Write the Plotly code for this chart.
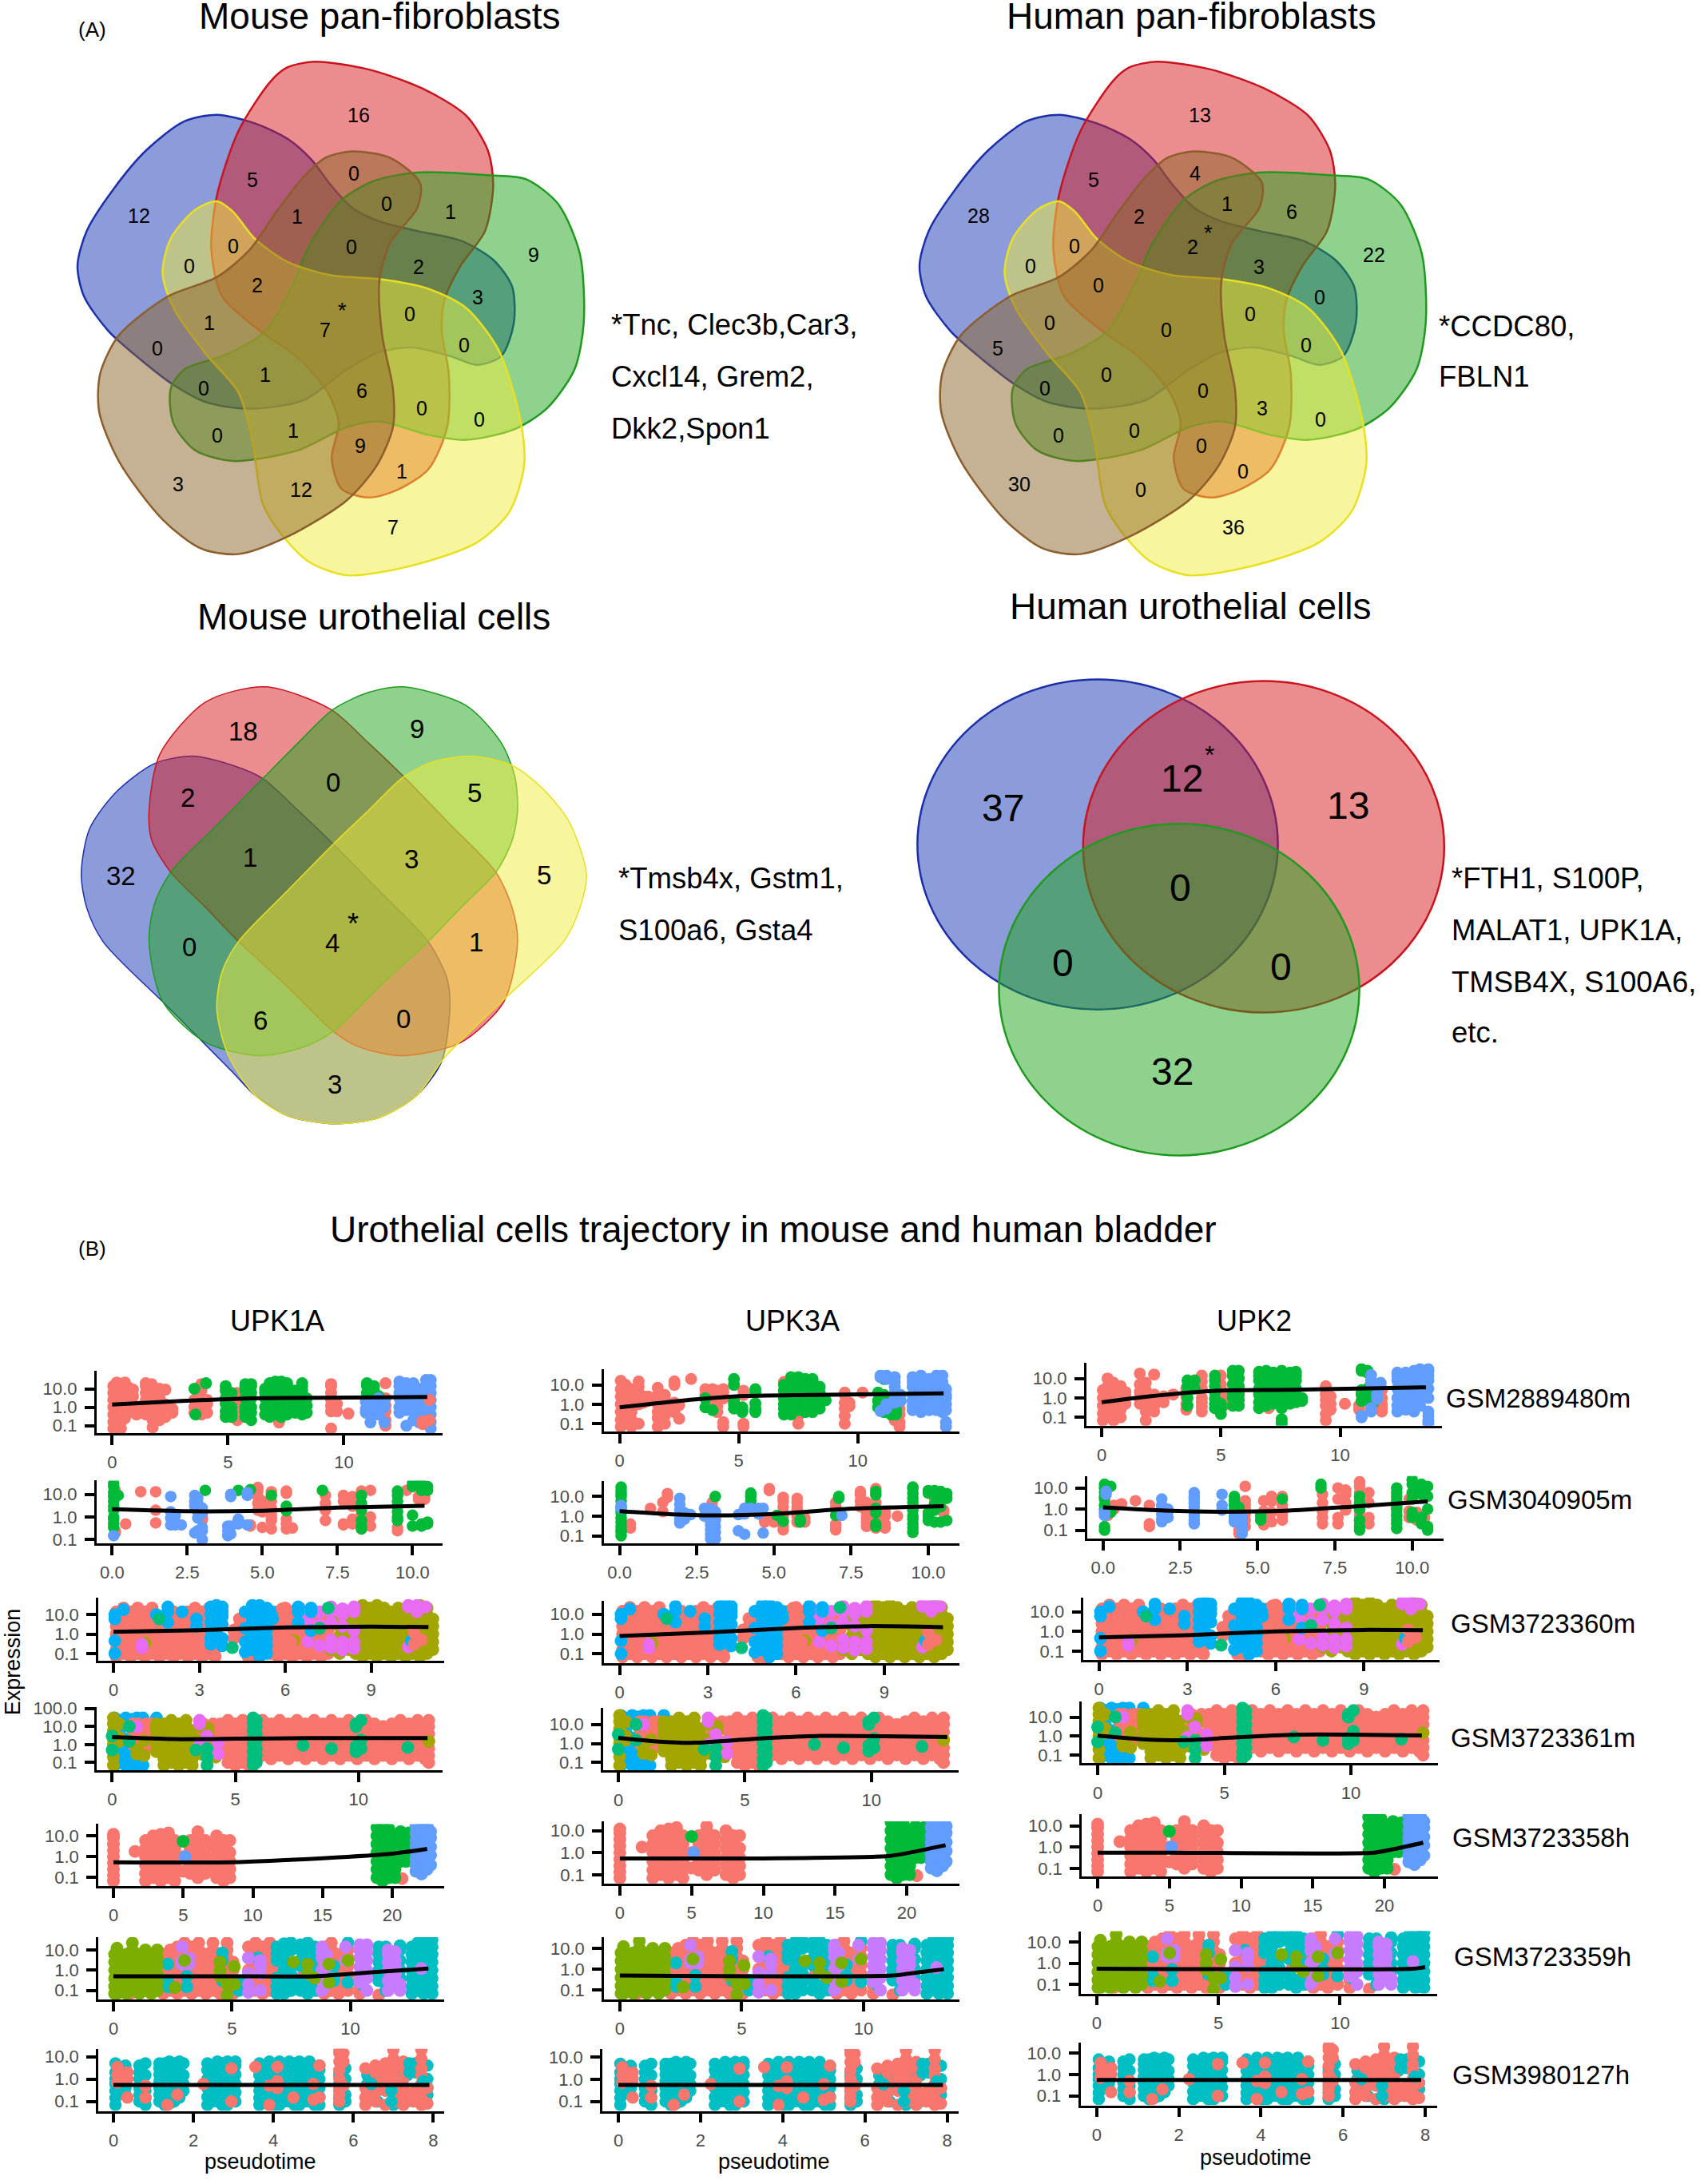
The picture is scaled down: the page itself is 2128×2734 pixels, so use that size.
import plotly.graph_objects as go

W, H = 2128, 2734
FONT = "Liberation Sans"
SALMON, G3, B3 = "#F8766D", "#00BA38", "#619CFF"
OLIVE, TEAL5, BLUE5, MAG5 = "#A3A500", "#00BF7D", "#00B0F6", "#E76BF3"
GRN4, CYAN4, PUR4 = "#7CAE00", "#00BFC4", "#C77CFF"

# ---------- Panel A: set counts ----------
mouse_fibro_counts = ["16","5","0","12","0","1","1","0","0","9","0","2","2","3","*","0","1","7","0","0","1","0","6","0","0","1","0","9","1","3","12","7"]
mouse_fibro_pos = [(662,285),(466,452),(653,436),(256,546),(713,515),(831,535),(549,548),(431,625),(649,628),(985,648),(349,677),(772,678),(475,727),(882,757),(632,782),(756,802),(386,825),(600,844),(857,882),(290,890),(489,960),(376,995),(668,1000),(778,1046),(884,1075),(541,1105),(401,1117),(665,1145),(742,1210),(329,1243),(555,1258),(725,1355)]
human_fibro_counts = ["13","5","4","28","1","6","2","*","0","2","22","0","3","0","0","0","0","0","0","5","0","0","0","3","0","0","0","0","0","30","0","36"]
human_fibro_pos = [(645,285),(449,452),(637,436),(238,546),(696,515),(815,535),(533,548),(661,582),(414,625),(632,628),(967,648),(333,677),(755,678),(458,727),(866,757),(739,802),(368,825),(584,844),(841,882),(273,890),(473,960),(359,995),(651,1000),(761,1046),(868,1075),(525,1105),(385,1117),(649,1145),(725,1210),(312,1243),(537,1258),(708,1355)]
mouse_uro_counts = ["18","9","2","0","5","1","3","32","5","*","4","0","1","6","0","3"]
mouse_uro_pos = [(449,387),(770,380),(346,563),(614,524),(875,550),(461,724),(759,727),(224,773),(1004,770),(651,890),(613,953),(350,963),(878,950),(481,1158),(744,1155),(617,1330)]
human_uro_counts = ["37","12","*","13","0","0","0","32"]
human_uro_pos = [(283,592),(612,512),(664,440),(919,585),(610,805),(393,1005),(795,1015),(595,1295)]

# Outlines of the hand-shaped Venn sets
blob_blue = [(400,288),(470,310),(530,350),(575,405),(610,470),(650,530),(700,565),(770,590),(850,615),(910,665),(945,735),(948,830),(925,915),(880,938),(830,915),(760,893),(700,905),(640,950),(560,1030),(460,1052),(380,1035),(320,990),(260,925),(200,850),(155,760),(143,680),(160,590),(210,480),(270,380),(340,305),(400,288)]
blob_red = [(580,150),(680,170),(780,220),(860,290),(900,380),(910,470),(895,590),(850,680),(820,770),(815,850),(828,960),(825,1100),(790,1210),(730,1265),(680,1283),(630,1260),(612,1180),(625,1090),(605,1010),(550,920),(480,850),(410,760),(390,640),(400,500),(440,330),(500,200),(530,165),(580,150)]
blob_green = [(770,438),(900,445),(970,455),(1030,520),(1070,650),(1077,830),(1060,950),(1010,1050),(950,1105),(860,1133),(790,1120),(700,1085),(640,1100),(550,1160),(430,1188),(360,1160),(320,1090),(315,1000),(340,950),(420,910),(490,850),(540,730),(570,630),(630,510),(690,460),(770,438)]
blob_yellow = [(400,513),(430,540),(470,610),(530,670),(610,705),(700,715),(790,740),(860,790),(920,900),(960,1080),(967,1200),(940,1320),(880,1400),(760,1460),(640,1485),(570,1450),(520,1380),(485,1300),(465,1130),(440,1010),(380,910),(320,790),(300,700),(315,610),(360,535),(400,513)]
blob_brown = [(650,383),(720,400),(775,465),(770,530),(720,620),(700,720),(705,860),(725,1000),(725,1100),(695,1200),(640,1290),(530,1385),(440,1430),(370,1415),(300,1340),(220,1190),(183,1060),(185,960),(220,860),(310,760),(400,710),(460,640),(510,540),(560,450),(600,400),(650,383)]
stad_blue = [(285,475),(355,455),(430,480),(485,515),(550,600),(615,690),(700,815),(790,950),(825,1050),(830,1130),(815,1270),(770,1360),(700,1420),(615,1437),(530,1415),(470,1360),(430,1300),(310,1125),(190,950),(160,860),(150,770),(165,650),(215,550),(285,475)]
stad_yellow = [(800,470),(870,455),(945,480),(1000,540),(1050,630),(1082,770),(1070,860),(1040,950),(930,1105),(820,1260),(770,1360),(700,1420),(620,1437),(530,1415),(470,1360),(420,1250),(400,1130),(410,1030),(440,950),(530,815),(615,690),(680,600),(745,510),(800,470)]
stad_red = [(490,270),(610,330),(680,420),(745,510),(830,637),(915,765),(945,860),(955,950),(930,1110),(850,1220),(740,1255),(660,1230),(615,1190),(530,1070),(440,950),(380,860),(315,765),(280,680),(275,600),(295,450),(380,310),(490,270)]
stad_green = [(745,270),(860,320),(925,420),(950,510),(955,600),(945,680),(915,765),(850,860),(790,950),(700,1070),(615,1190),(560,1232),(480,1255),(380,1220),(300,1110),(275,950),(285,850),(315,765),(400,640),(485,515),(550,420),(615,330),(680,285),(745,270)]

SET_BLUE = ("rgba(25,55,180,0.5)", "#1c2fa8")
SET_RED = ("rgba(215,25,30,0.5)", "#c8141e")
SET_GREEN = ("rgba(30,165,30,0.5)", "#1f9a1f")
SET_YELLOW = ("rgba(240,235,60,0.5)", "#e8e020")
SET_BROWN = ("rgba(140,100,40,0.5)", "#8b5e2b")

# ---------- Panel B: column templates of expression levels ----------
L = [.07,.16,.4,1,2.5,6,14,30]
M = [.1,.25,.6,1.6,4,10,22]

# Rows 1 and 2 differ per gene; each entry is (pseudotime, [expression values])
r1a_salmon = [(.05,L[0:7]),(.2,M[0:7]),(.38,L[0:7]),(.55,M[1:7]),(.7,[.5,1.2,3,8,12]),(.9,[.6,1.4,4,9]),(1.05,[.4,.9]),(1.2,[1.1,.5]),(1.45,[.4,1,2.5,6,14,20]),(1.7,[.6,1.5,4,10,18]),(1.75,[.08,.2]),(2.05,[.2,.5,1.2,3,7,10]),(2.3,[.3,.7,1.4,9]),(2.6,[.5,.8]),(3.55,[.5,1,2.5]),(3.85,[.4,.8,2,8,18]),(4.1,[.5,1.5,2.5]),(5.4,[.2,.8,1.5,4,6]),(7.2,[.15]),(9.45,[.07,.6,1.2,2.5,6,14,18]),(9.7,[.6,1.5]),(10.2,[.45]),(11.8,[.1,.2,.6,1.2,3,20])]
r1a_green = [(3.55,[10]),(3.6,[.4]),(4.05,[20]),(4.9,[.3,.6,1.5,3,8,14]),(5.15,[.3,.5,1,6]),(5.75,[.3,1,.6,3,8,14,18]),(6.0,[.2,.5,1,3,6,14,18]),(6.6,[.4,1,3,6,10]),(6.8,[.3,.6,1.5,3,8,14,20]),(7.05,[.4,1,2.5,6,14,25]),(7.3,[.3,.6,1.5,4,10,25]),(7.55,[.4,1,3,6,14,20]),(7.9,[.5,1.2,4,8]),(8.2,[.4,1,3,8,14,20]),(8.4,[.5,1.2,3]),(11.0,[1,3,6,14,20]),(11.3,[2,8,14]),(11.5,[.6,4])]
r1a_blue = [(10.95,[.5,.8,2]),(11.15,[.15,.6,1.5]),(11.5,[.4,.8,1.6,3]),(11.75,[.15,1,2]),(12.4,[.5,1,3,6,14,25]),(12.7,[.1,.7,2,4,10,20]),(13.0,[.2,.6,1.5,3,6,14,20]),(13.25,[.15,.6,1.5,4,10]),(13.55,L[1:8]),(13.75,L[0:8])]
r1a_salmon2 = [(13.4,[.12,.17]),(13.7,[2.5,.2])]

r1b_salmon = [(.05,L[0:6]+[16]),(.25,M[0:6]),(.5,L[0:6]),(.8,[.1,1,2,4,8,15]),(1.0,[1.2,2,2.5]),(1.2,[1.5,2.5]),(1.6,[.07,.2,.4,1,3,7]),(1.9,[.1,.25,.6,1.5,3,.7]),(2.3,[.4,.8,1.2,15,10]),(2.5,[.9,.18]),(3.0,[20,]),(3.6,[3,6]),(3.9,[1,4,6]),(4.1,[.4,.8,2,5]),(4.35,[.07,.12,6,4,2]),(5.2,[.1,.07,3,5]),(6.9,[5,14,2]),(7.5,[.25,.1]),(9.45,[.1,.25,.6,1.2,3,4]),(9.65,[.8,1.2]),(10.2,[4,]),(11.55,[.15,.4,.8,3]),(11.75,[.07,.12,.3,.6,1.5])]
r1b_green = [(3.6,[.7,2]),(3.9,[.5]),(4.8,[.6,1,1.5,20,10]),(5.15,[.5,.7,.4]),(5.7,[.4,.6,1.1,4,6]),(6.9,[.3,.6,1,2,5,10]),(7.2,[.3,.5,1,2.5,6,14,25]),(7.5,[.5,1.2,3,8,20,25]),(7.8,[.4,1,2,5,10,20]),(8.1,[.4,1,2.5,6,14,20]),(8.4,[1.2,4,8,.6]),(8.65,[1.6,]),(10.85,[.7,1.5,4]),(11.1,[.4,.8,1.6,3,20]),(11.4,[.3,.6,1.2]),(11.6,[.3,.5,.9])]
r1b_blue = [(10.95,[.45,30,25]),(11.2,[.6,1,20,30]),(11.55,[1.2,2,4,8,14,25]),(11.8,[1.5,3]),(12.3,[.5,.8,1.5,3,8,14,25]),(12.65,[.4,.8,2,5,10,20,30]),(13.0,[.5,.9,1.6,4,10,20]),(13.3,[.5,1,2.5,6,14,30]),(13.55,L[2:8]),(13.7,[.07,.12,.5,1,2,3,6])]

r1c_salmon = [(.05,L[0:5]),(.25,M[0:6]),(.5,L[0:6]),(.8,[.1,.25,.6,1.5,3,4]),(1.0,[.5,1.2,2]),(1.6,[.5,.9,2,5,18]),(1.85,[.07,.2,.5,1,2.5,6]),(2.2,[.2,.4,.8,1.5,16]),(2.6,[.6,1.2]),(3.0,[1.5]),(3.55,[.25,.5,1.2,3]),(4.2,[.2,.35,.6,1,3,7,14]),(5.0,[14,5]),(5.1,[.4,.8,2]),(7.0,[.3,3]),(9.4,[.07,.15,.4,.8,1.5,4]),(9.6,[.25,.5,1.2]),(10.2,[.5]),(10.8,[.25,.4]),(11.75,[.2,.3,.5,1,2.5])]
r1c_green = [(3.6,[.4,1,2,4,8]),(3.9,[3,8]),(4.75,[.3,.5,.9,2,4,8,14]),(5.0,[.15,.3,.5]),(5.5,[.4,1,2,5,14,25]),(5.75,[.4,.8,1.5,4,10,25]),(6.6,[.3,.6,1.5,3,8,14,22]),(6.9,[.4,.9,2,5,12,25]),(7.2,[.5,1.2,3,8,20]),(7.55,[.05,.08,.3,.7,2,6,14,25]),(7.9,[.5,1,2.5,6,14,20]),(8.15,[.6,1.4,3,8,14,22]),(8.4,[1,.7]),(10.9,[.7,1.5,2.5,25,30]),(11.15,[.8,1.5,3,20,25]),(11.4,[.6,1]),(13.0,[14,8])]
r1c_blue = [(10.9,[.1,.12]),(11.3,[.2,.3,6,8,15]),(11.55,[.9,1.5]),(11.7,[4,6]),(12.4,[.2,.4,1,3,8,14,20]),(12.75,[.25,.5,1,2,6,20]),(13.1,[.2,.35,.8,2,5,14,25]),(13.35,[.4,.8,2.5,6,14,30]),(13.7,[.05,.07,.12,.2,1,3,8,14,25,30])]

r2a_salmon = [(.1,[.2,.25,15,12]),(.45,[.5]),(.95,[13]),(1.45,[13,2,.55]),(3.0,[.9,.75]),(4.6,[.4,.45]),(4.85,[2,4,8,15,20]),(5.0,[.35,1.7,3,5]),(5.3,[.3,.7,1,1.5,2.5,5,13]),(5.8,[.3,.5,.8,11,14]),(6.0,[.33]),(7.1,[.7,2,4,9]),(7.7,[.45,.5,5,9]),(8.0,[.5,.8,3,5,8]),(8.3,[.3,.4,.8,1.3,3,14]),(8.6,[.4,1,15]),(9.5,[.25,.35]),(9.8,[15]),(10.2,[8,6]),(10.4,[6,8])]
r2a_green = [(.05,[.35,.5,.8,1,2,3,5,8,12,22,30]),(.2,[9]),(3.1,[15]),(4.2,[15,.7]),(4.6,[16]),(5.3,[9]),(5.8,[1.9,3]),(7.0,[15,]),(8.3,[.3,.4,.7,2,4,9]),(9.5,[.7,1,1.7,3,5,9,14]),(10.0,[1.2,.4,22,30]),(10.3,[.4,.5,15,22,30]),(10.5,[.5,.6,15,22])]
r2a_blue = [(.05,[.15]),(1.95,[8,.45,.9,1.7]),(2.1,[.45,.6,1.2]),(2.3,[.45]),(2.75,[.2,3,5,9]),(2.85,[.25,.9,1.7,3,4,7]),(3.0,[.1,.25,.35,1.5,2.5]),(3.85,[.15,.25,.4]),(3.95,[.18,.4,8,10]),(4.2,[.5,.8]),(4.5,[.45,9,12])]

r2b_salmon = [(.1,[.25,.4]),(.35,[.25,.4]),(1.0,[2.5]),(1.4,[1.7,5]),(1.55,[9,14]),(3.0,[5,3]),(3.1,[.8,1.5]),(4.85,[20,25]),(4.7,[.5,.7,.8]),(5.0,[.5,.7]),(5.3,[.2,.3,.5,1,1.5,3,6,9]),(5.75,[.5,1,2,3,5,8]),(6.0,[.5,.8]),(7.0,[.2,.3,.4,3,5]),(7.8,[3,6,12,18]),(8.0,[.3,.5,.8,1.5,3,5]),(8.3,[.25,.4,.7,1.2,2,5,25]),(8.6,[.25,.4,1,1.6]),(9.0,[1]),(10.2,[2.5,8]),(10.5,[2,1.5])]
r2b_green = [(.05,[.1,.15,.2,.3,.5,.8,1.5,2,3,6,10,14,20,30]),(3.1,[10]),(4.25,[6,10,15]),(5.85,[.5,.7]),(5.1,[1.1]),(5.3,[.55]),(7.1,[8,10]),(7.0,[1.1]),(8.3,[.3,.4,1.5,2.5,12,18]),(9.5,[.15,.25,.4,.7,1,2,3,5,8,14,25,30]),(10,[.6,1,1.5,15,20]),(10.2,[.5,2,4,12,20]),(10.4,[.5,3,10,18]),(10.6,[.6,8,14])]
r2b_blue = [(.05,[2.5,3.5]),(1.95,[.45,.7,1.2,2,4,8]),(2.1,[.7,1.5]),(2.3,[1.2]),(2.75,[1,2.5]),(2.95,[.07,.12,.2,.35,.5,.9,1.5,2.5]),(3.1,[.07,.15,.3,.6,1.1,1.7]),(3.85,[.18,1.2]),(4.05,[.12,1.3,2.5]),(4.25,[2.5]),(4.5,[1.3,2.5]),(4.65,[.14,2.5]),(7.2,[1.1])]

r2c_salmon = [(.15,[.5,.8]),(.35,[1,1.5]),(.6,[1.8]),(1.05,[2.5]),(1.5,[.15,.2,1.5]),(4.4,[.07,.1,.35,.8]),(4.6,[.15,.3,.6,1,1.5,2.5,12]),(5.2,[.18,.3,.8,2.5]),(5.45,[.25,.7,2.3,4]),(5.8,[.3,.5,.7,1,1.5,4]),(7.1,[.2,.4,.8,2,5]),(7.6,[.2,.4,3,10]),(7.85,[.9,2,5,8]),(8.3,[.2,.3,.5,.8,1.5,3,6,12,20]),(8.6,[.2,.4,2,6]),(9.5,[.5,.7,1.2]),(9.9,[.4,.8,3]),(10.15,[.7,.4,.3]),(10.4,[.4,4])]
r2c_green = [(.05,[.1,.15,1,1.5,3,4,6,10,15]),(.25,[.8,12,.7]),(4.25,[.4,1,1.5,2.5,4]),(4.4,[1.2]),(5.1,[.3,.5]),(5.8,[3,]),(7.05,[15,10]),(8.3,[.1,.15,.3,1,2,4]),(9.5,[.12,.2,.3,.5,1,1.5,2.5,4,6,10]),(10.0,[.4,.7,3,6,15,25]),(10.3,[.4,.2,5,8,15]),(10.5,[.1,.15,1,4,12])]
r2c_blue = [(.05,[.5,.7]),(.1,[5,7]),(1.9,[.25,.35,.6,1,1.5,3]),(2.1,[.4,.8,1]),(2.95,[.2,.3,.5,.8,1.3,2,3,4,6]),(3.85,[.9,1.5,5]),(4.25,[.25,.3,.5]),(4.5,[.07,.12,.2,.4])]

# Rows 3 to 7: shared cell positions along pseudotime
r3_salmon = [(.1,L[0:7]),(.35,M[0:7]),(.6,L[0:7]),(.85,M[0:7]),(1.1,L[0:7]),(1.35,M[0:7]),(1.6,L[0:6]),(1.85,M[0:6]),(2.1,L[0:7]),(2.35,M[0:6]),(2.6,L[0:7]),(2.85,M[0:7]),(3.1,L[0:7]),(3.35,M[0:7]),(3.55,L[0:5]),(4.2,[.6,1.6]),(4.4,L[3:6]),(4.7,L[0:6]),(5.0,[.05,.07]),(5.5,M[0:6]),(5.75,L[0:7]),(6.0,M[0:7]),(6.25,L[0:7]),(6.5,M[0:7]),(6.75,L[0:7]),(7.0,M[0:6]),(7.25,L[0:6]),(7.5,M[0:5])]
r3_olive = [(7.6,[.16,.4,14,22]),(7.9,[.1,.25,.8,2.5,5]),(8.2,L[1:7]),(8.45,M[0:7]),(8.7,L[0:8]),(8.95,M[0:7]),(9.2,L[0:8]),(9.45,M[0:7]),(9.7,L[0:7]),(9.95,M[0:7]),(10.2,L[0:7]),(10.45,M[0:7]),(10.7,L[0:8]),(10.95,M[0:7]),(11.15,L[1:6]),(6.3,[.45]),(1.1,[.35])]
r3_magenta = [(6.8,[.4,6,14]),(7.2,[.25,3,14]),(7.6,[.2,.5,4,14,25]),(8.0,[.15,.4,2.5,10,20]),(8.4,[.18,.4,1.5,14,25]),(10.3,[.22,25,30]),(10.6,[14,30]),(10.9,[25]),(1.0,[.2,.3])]
r3_blue = [(.05,[.1,.45,6,10]),(.35,[18]),(1.5,[10]),(1.9,[4,14,25]),(2.4,[14]),(2.9,[2.5,6]),(3.4,[.3,.6,1.6,4,10,25]),(3.6,L[2:8]),(3.8,[.25,.6,3,8,14,25]),(4.6,[.12,.4,2,14]),(4.85,L[1:8]),(5.1,L[0:8]),(5.35,M[0:7]),(5.55,[6,14]),(6.45,[4,14,25]),(6.9,[1.5,14,22]),(10.4,[.45])]
r3_teal = [(4.15,[.2]),(7.2,[2]),(7.5,[22]),(1.6,[6])]
r3_salmon2 = [(10.75,[.5]),(10.5,[1.2,.3]),(6.2,[.4,.2]),(5.9,[20,])]

r4_blue = [(.1,L[0:8]),(.3,M[0:7]),(.55,[.07,.16,.4,1,2,30]),(1.0,[.07,.2,30]),(1.25,[.07,30]),(1.8,[30]),(.8,[25,.07])]
r4_salmon = [(.85,[1,2,6,14]),(1.05,[.6,1.5,3,8,14]),(1.4,[.6,1.4,4,9,14]),(1.6,[2,5,14]),(3.2,[2,.5]),(3.7,[.5,3,14]),(4.1,[1.2,6,14]),(4.4,L[2:7]),(4.7,M[0:7]),(5.0,L[0:7]),(5.3,M[0:7]),(5.55,L[0:7]),(6.1,M[1:7]),(6.45,L[1:7]),(6.8,M[1:7]),(7.15,L[1:7]),(7.5,M[1:7]),(7.85,L[1:7]),(8.2,M[1:7]),(8.55,L[1:7]),(8.9,M[1:7]),(9.25,L[1:7]),(9.6,M[1:7]),(9.95,L[1:7]),(10.3,M[1:7]),(10.65,L[1:7]),(11.0,M[1:6]),(11.35,L[1:7]),(11.7,M[1:7]),(12.05,L[1:7]),(12.4,M[1:7]),(12.7,L[1:7]),(12.85,M[0:7])]
r4_olive = [(.05,[.07,.2,1,2,6,14,30]),(.3,[1.5,2.5,14]),(1.0,[.3,.5]),(1.3,[1.6,.25]),(1.8,[.4,1,3,6,10,14]),(2.1,L[0:7]),(2.4,M[0:7]),(2.7,L[0:7]),(3.0,M[0:7]),(3.25,L[0:6]),(3.6,[.3,.6,1.6,10]),(3.9,[.4,4,8]),(4.2,[.2,.7]),(12.85,[1.5])]
r4_magenta = [(1.0,[10]),(3.55,[.9,14,22]),(3.85,[3]),(4.3,[1.2,.3])]
r4_green = [(5.72,L[0:8]),(5.85,M[0:7]),(0,[.5,3]),(.7,[10,1.5]),(3.4,[.5]),(3.85,[.07,.2,.6]),(7.75,[.9]),(8.9,[.6]),(9.9,[.4,.8,10,14]),(10.1,[.6,1.8,22]),(12.0,[.7])]

r5_salmon = [(0,[.07,.13,.25,.5,1,2,4,8,12]),(1.55,[1.8]),(2.3,L[0:6]),(2.85,M[0:6]),(3.4,L[0:6]+[12]),(3.95,M[0:6]+[14]),(4.4,L[0:6]),(5.0,[.2,1.0]),(5.5,L[1:6]),(6.05,M[0:6]+[16]),(6.6,L[1:6]),(7.4,M[0:6]),(7.9,L[0:6]),(8.35,M[0:4]+[6]),(20.7,[.09])]
r5_green = [(5.0,[5.5]),(18.9,[.1,.25,.6,1.6,4,10,25]),(19.3,L[0:8]),(19.75,M[0:7]),(20.2,[.1,.25,.6,1.6,4,10]),(20.6,[.6,1.5,4,10,16]),(21.2,[.7,5,14]),(21.0,[.6,1.6,4])]
r5_blue = [(5.15,[1.0]),(21.7,[.2,.4,.8,1.6,3,6,14,30]),(22.1,[.15,.3,.7,1.6,4,10,25]),(22.5,[.25,.6,1.5,3.5,8,20,30]),(22.75,[.4,1.2,3,8,16])]

r6_olive = [(.05,L[0:6]),(.15,[9,12,.07,.2]),(.3,M[0:5]),(.55,L[0:6]),(.8,M[0:6]+[22]),(1.1,L[0:6]),(1.35,M[0:6]),(1.6,L[0:6]),(1.85,M[0:6])]
r6_salmon = [(2.1,L[0:6]),(2.4,M[0:6]),(2.7,L[0:7]),(3.0,M[0:7]),(3.3,L[0:7]),(3.6,M[0:7]),(3.9,L[0:6]),(4.2,M[0:7]),(4.5,L[0:6]),(4.8,M[0:7]),(5.05,L[0:5]),(5.7,[.1,.25,.6,1,4,14]),(6.0,M[0:7]),(6.3,L[0:7]),(6.6,M[0:7]),(7.0,L[1:4]),(7.4,M[0:3]),(8.0,[.5,3]),(8.6,M[0:6]),(8.9,L[0:7]),(9.2,M[0:7]),(9.5,L[0:6]),(9.9,M[0:6]),(10.4,[.07,.16,.4]),(11.2,[.06,7]),(.7,[.07,.7,3]),(1.5,[1.6,.1])]
r6_cyan = [(2.3,[.15,.25,2]),(3.1,[.5,.15]),(4.6,[.3,3,7]),(5.3,[.1,.3]),(6.1,[4]),(6.9,[.07,.16,.4,3,6,14]),(7.2,[.07,.16,.4,1,2.5,6,14,20]),(7.5,[.1,.25,.6,1.6,10,22]),(7.9,[.1,.3,1.6,3,10,18]),(8.2,[.07,.16,3,6,14,22]),(8.5,[.1,.3,1,4,14]),(9.3,[.3,.5,1.6]),(9.9,[.25,22]),(10.5,[1,2.5,.2]),(11.2,[.3,.6,1,2.5,6,14]),(11.5,[.1,.3,2,14]),(12.1,[.4,1,3,10,16]),(12.6,L[0:7]),(12.85,M[0:7]),(13.1,L[0:8]),(13.35,M[0:7]),(13.45,L[0:8])]
r6_purple = [(2.9,[2,3,14]),(3.2,[2,4]),(5.7,[.08,.2,.7,4]),(6.2,[.1,.7,1.8,3]),(8.8,[.1,.3,1,4,8,14]),(9.0,[.2,1.5,6]),(9.8,[3,14]),(10.4,[.25,.6,1.5,4,10,18]),(10.7,[.1,.4,1,3,8,18]),(11.6,[.1,.3,1,2.5,6,10]),(11.9,[.2,.6,1.6,3,8]),(12.1,[.1,.2]),(13.0,[1.2])]
r6_olive2 = [(2.6,[.14]),(3.0,[3]),(4.5,[.5,2.5,1]),(4.8,[.2,.06]),(5.1,[.2,1.5]),(7.6,[2.5]),(8.2,[2,.7]),(8.5,[.4]),(9.1,[.25,2]),(9.9,[3])]

r7_cyan = [(.05,[.07,.14,.3,.6,1,2,5]),(.3,[.2,.4,4]),(.65,[.1,.2,.4,1,2,4]),(.8,[.07,.14,.3,.5,1.5,5]),(1.15,[.1,.2,.4,.8,1.6,3,5]),(1.28,[.07,.25,.6,1.2,2.5,5]),(1.4,[.08,.15,.3,.7,1.5,3,6]),(1.52,[.1,.5,1.2,2.5,5]),(1.65,[.15,.3,.8,2,4,6]),(1.75,[.3,.6,1.5,5]),(2.35,[.07,.16,.4,1,2.5,5]),(2.48,[.1,.25,.6,1.6,4]),(2.6,[.1,.25,.6,1.6,4,6]),(2.72,[.07,.16,.4,1,2.5,5]),(2.85,[.07,.16,.4,1,2.5,6]),(2.95,[.1,.25,.6,1.6,4]),(3.05,[.1,.25,.6,1.6,4,6]),(3.65,[.07,.14,.3,.6,1.5,3,5]),(3.78,[.1,.2,.45,1,2,4]),(3.9,[.1,.2,.5,1.2,2.5,6]),(4.03,[.07,.16,.4,1,2,4]),(4.15,[.07,.16,.4,1,2.5,6]),(4.28,[.1,.25,.6,1.6,4]),(4.4,[.1,.25,.6,1.6,4,6]),(4.53,[.07,.16,.4,1,2.5,5]),(4.65,[.07,.16,.4,1,2.5,6]),(4.78,[.1,.25,.6,1.6,4]),(4.9,[.1,.25,.6,1.6,4,6]),(5.03,[.07,.16,.4,1,2.5]),(5.15,[.07,.16,.4,1,2.5,4]),(5.65,[.07,.14,.3,2,.6,1.3,.08]),(5.8,[.1,.2,1,3]),(6.35,[.6,.2,1.5]),(6.6,[.1,.3,1,.6]),(7.0,[.07,1.2,.5]),(7.35,[.2,.1,1.5,4]),(7.55,[2,5,.3]),(7.85,[.2,.4,1,4]),(7.1,[2])]
r7_salmon = [(.1,[3.5,1.5,.7]),(.35,[2,1,.15]),(.8,[.5,.15]),(1.35,[.07]),(1.6,[.2]),(2.25,[.6]),(2.95,[3,.1]),(3.55,[3.5]),(3.9,[.07,.5]),(4.1,[3.5,.8,.4]),(4.5,[.15]),(5.0,[.12,.6]),(5.15,[4,.15]),(5.65,[.1,.2,.4,1,2.5,6,14,20]),(5.75,[.5,6,14]),(6.3,[.07,.15,.4,3]),(6.55,[.1,.25,.7,2,4]),(6.8,[.07,.3,1,2.5,5]),(7.0,[.1,.25,.6,1.6,4,8,20]),(7.25,[.07,.15,.4,1,3,6]),(7.5,[.1,.25]),(7.7,[.07,.14,.3,.6,1.5,3,8,20]),(7.85,[.08,.4])]
r7_cyan2 = [(6.45,[.6]),(6.95,[.3,.1]),(7.4,[2,5]),(7.75,[.8])]

# Smoothed expression curves, one per panel
trend_x = [
 [[0,3,6,9,13.6],[0,2.5,5,7.5,10.4],[0,3,6,9,11],[0,2.5,5,8,12.8],[0,8.5,15,20,22.5],[0,5,8.5,11,13.3],[0,7.9]],
 [[0,2,5,8,13.6],[0,1.5,3,5,7.5,10.5],[0,3,6,8.5,11],[0,1.5,3,5.5,8,13],[0,10,18.7,20,22.7],[0,11.2,12.2,13.3],[0,7.9]],
 [[0,2,5,8,13.6],[0,2,4,6,8,10.5],[0,3,6,9,11],[0,2,3.5,6,8,10,12.8],[0,5,19.3,21,22.7],[0,13,13.5],[0,7.9]],
]
trend_y = [
 [[1.4,2.2,3,3.3,3.6],[2.2,1.8,1.9,2.6,3.1],[1.3,1.6,2.2,2.4,2.3],[2.6,2,2.1,2.3,2.3],[.55,.55,.85,1.4,2.4],[.5,.5,.5,.8,1.2],[.55,.55]],
 [[.7,1.3,2.6,3,3.6],[1.8,1.3,1.1,1.3,2.4,3.2],[.8,1.2,2,2.5,2.2],[2,1.3,1.1,1.8,2.5,2.2],[.55,.55,.7,.95,2.2],[.5,.5,.7,1],[.55,.55]],
 [[.6,1.2,2.4,2.6,3.5],[1.2,.85,.75,.85,1.3,2.3],[.5,.65,1,1.2,1.15],[1.05,.65,.62,.95,1.2,1.2,1.1],[.55,.55,.55,.9,1.6],[.55,.55,.65],[.55,.55]],
]

gene_names = ["UPK1A", "UPK3A", "UPK2"]
sample_names = ["GSM2889480m","GSM3040905m","GSM3723360m","GSM3723361m","GSM3723358h","GSM3723359h","GSM3980127h"]
x_ticks = [[0,5,10],[0,2.5,5,7.5,10],[0,3,6,9],[0,5,10],[0,5,10,15,20],[0,5,10],[0,2,4,6,8]]
x_labels = [["0","5","10"],["0.0","2.5","5.0","7.5","10.0"],["0","3","6","9"],["0","5","10"],["0","5","10","15","20"],["0","5","10"],["0","2","4","6","8"]]

shared_rows = {
 2: [(SALMON,r3_salmon),(OLIVE,r3_olive),(MAG5,r3_magenta),(BLUE5,r3_blue),(TEAL5,r3_teal),(SALMON,r3_salmon2)],
 3: [(BLUE5,r4_blue),(SALMON,r4_salmon),(OLIVE,r4_olive),(MAG5,r4_magenta),(TEAL5,r4_green)],
 4: [(SALMON,r5_salmon),(G3,r5_green),(B3,r5_blue)],
 5: [(SALMON,r6_salmon),(CYAN4,r6_cyan),(PUR4,r6_purple),(GRN4,r6_olive),(GRN4,r6_olive2)],
 6: [(CYAN4,r7_cyan),(SALMON,r7_salmon),(CYAN4,r7_cyan2)],
}
gene_rows = {
 0: [[(SALMON,r1a_salmon),(G3,r1a_green),(B3,r1a_blue),(SALMON,r1a_salmon2)],
     [(SALMON,r1b_salmon),(G3,r1b_green),(B3,r1b_blue)],
     [(SALMON,r1c_salmon),(G3,r1c_green),(B3,r1c_blue)]],
 1: [[(SALMON,r2a_salmon),(G3,r2a_green),(B3,r2a_blue)],
     [(SALMON,r2b_salmon),(G3,r2b_green),(B3,r2b_blue)],
     [(SALMON,r2c_salmon),(G3,r2c_green),(B3,r2c_blue)]],
}
marker_px = [15, 14.5, 16, 16, 16, 16, 15.5]

# Panel frames in page pixels: left,right,top,bottom,x0px,px-per-unit,y10px,px-per-decade
frames = [
 [(120.6,554,1717,1795.7,140.4,29.0,1740,23.2),(120.6,554,1855.7,1935,140.4,37.6,1873,28.6),(123,556,2003,2083,142,35.85,2024.6,24.5),(120.6,554.4,2141,2220.8,140.4,30.84,2165.6,22.7),(123,556,2288.5,2366.8,142,17.45,2303.4,26.3),(123,556,2431,2509.8,142,29.65,2447,25.6),(123,556,2571.6,2650,142,50.06,2581.6,28.2)],
 [(755.5,1200.7,1715.7,1794,775.6,29.82,1735,24.5),(755.5,1200.7,1856,1935,775.6,38.64,1875.7,24.8),(755.5,1200.7,2006.8,2085.7,775.6,36.8,2024,25),(754.8,1199.5,2142,2221,774,31.68,2163,24),(756,1201,2285,2363.4,775.9,17.96,2296.9,27.7),(756,1201,2431,2509.6,775.9,30.5,2445,26.4),(754,1199.5,2572,2650,774,51.44,2582,28)],
 [(1359.7,1805.4,1707.5,1786.4,1379,29.85,1727,24.5),(1361,1806.5,1850,1929,1380.7,38.7,1865,26.6),(1356.3,1801.5,2002.9,2081.4,1375.7,36.85,2021,24.8),(1354,1799.5,2134,2212,1374,31.7,2153.7,24),(1354,1799.5,2276,2354.6,1374,17.95,2290.7,26.8),(1352.5,1798.7,2423.5,2502,1372.8,30.46,2437,26.8),(1352.5,1798.7,2564,2643,1372.8,51.4,2577,27)],
]

fig = go.Figure()
layout = dict(width=W, height=H, margin=dict(l=0,r=0,t=0,b=0), paper_bgcolor="white", plot_bgcolor="rgba(0,0,0,0)", showlegend=False, hovermode=False)
annots = []

def expand(columns):
    xs, ys = [], []
    for x, vals in columns:
        for v in vals:
            xs.append(x); ys.append(v)
    return xs, ys

def text(px, py, s, size, anchor="center", color="black", angle=0):
    annots.append(dict(x=px/W, y=1-py/H, xref="paper", yref="paper", text=s, showarrow=False,
        xanchor=anchor, yanchor="middle", textangle=angle, font=dict(family=FONT, size=size, color=color)))

n = 0
for c in range(3):
    for r in range(7):
        n += 1
        left, right, top, bottom, x0, sx, y10, dec = frames[c][r]
        xn, yn = ("xaxis", "yaxis") if n == 1 else (f"xaxis{n}", f"yaxis{n}")
        xr, yr = ("x", "y") if n == 1 else (f"x{n}", f"y{n}")
        layout[xn] = dict(domain=[left/W, right/W], range=[(left-x0)/sx, (right-x0)/sx], anchor=yr,
            tickvals=x_ticks[r], ticktext=x_labels[r], ticks="outside", ticklen=12, tickwidth=3.5, tickcolor="black",
            showline=True, linecolor="black", linewidth=2.5, showgrid=False, zeroline=False, ticklabelstandoff=3,
            tickfont=dict(family=FONT, size=22, color="#4D4D4D"))
        yvals = [100,10,1,.1] if (c == 0 and r == 3) else [10,1,.1]
        ytext = ["100.0","10.0","1.0","0.1"] if (c == 0 and r == 3) else ["10.0","1.0","0.1"]
        layout[yn] = dict(domain=[1-bottom/H, 1-top/H], type="log", range=[1+(y10-bottom)/dec, 1+(y10-top)/dec], anchor=xr,
            tickvals=yvals, ticktext=ytext, ticks="outside", ticklen=12, tickwidth=3.5, tickcolor="black",
            showline=True, linecolor="black", linewidth=2.5, showgrid=False, zeroline=False, ticklabelstandoff=5,
            tickfont=dict(family=FONT, size=22, color="#4D4D4D"))
        series = gene_rows[r][c] if r in gene_rows else shared_rows[r]
        for color, columns in series:
            xs, ys = expand(columns)
            if xs:
                fig.add_trace(go.Scatter(x=xs, y=ys, xaxis=xr, yaxis=yr, mode="markers", hoverinfo="skip",
                    marker=dict(size=marker_px[r], color=color, line=dict(width=0))))
        fig.add_trace(go.Scatter(x=trend_x[c][r], y=trend_y[c][r], xaxis=xr, yaxis=yr, mode="lines", hoverinfo="skip",
            line=dict(color="black", width=5, shape="spline", smoothing=0.6)))

# Full-page overlay axes for the Venn diagrams
VX, VY = f"x{n+1}", f"y{n+1}"
layout[f"xaxis{n+1}"] = dict(domain=[0,1], range=[0,W], visible=False, anchor=VY)
layout[f"yaxis{n+1}"] = dict(domain=[0,1], range=[H,0], visible=False, anchor=VX)

def blob(points, style, fx, fy, dx, dy, width=2.5):
    fig.add_trace(go.Scatter(x=[dx+p[0]/fx for p in points], y=[dy+p[1]/fy for p in points], xaxis=VX, yaxis=VY,
        mode="lines", hoverinfo="skip", fill="toself", fillcolor=style[0],
        line=dict(color=style[1], width=width, shape="spline", smoothing=0.8)))

for dx in (0, 1054):
    for pts, st in ((blob_blue,SET_BLUE),(blob_red,SET_RED),(blob_green,SET_GREEN),(blob_yellow,SET_YELLOW),(blob_brown,SET_BROWN)):
        blob(pts, st, 1.474, 2.063, dx, -5)
for pts, st in ((stad_blue,SET_BLUE),(stad_red,SET_RED),(stad_green,SET_GREEN),(stad_yellow,SET_YELLOW)):
    blob(pts, st, 1.474, 2.119, 0, 728, 1.5)

circles = [(1374,1054,225.6,208,SET_BLUE),(1581.8,1057,226,208.8,SET_RED),(1476,1237,225.6,209,SET_GREEN)]
layout["shapes"] = [dict(type="circle", xref=VX, yref=VY, x0=cx-rx, x1=cx+rx, y0=cy-ry, y1=cy+ry,
        fillcolor=st[0], line=dict(color=st[1], width=2.5), layer="above") for cx,cy,rx,ry,st in circles]

for labels, pos, fx, fy, dx, dy, size in (
    (mouse_fibro_counts, mouse_fibro_pos, 1.474, 2.063, 0, -3, 25),
    (human_fibro_counts, human_fibro_pos, 1.474, 2.063, 1064, -3, 25),
    (mouse_uro_counts, mouse_uro_pos, 1.474, 2.119, 0, 729, 33),
    (human_uro_counts, human_uro_pos, 1.474, 2.119, 1064, 729, 48)):
    for s, p in zip(labels, pos):
        sz = size
        yoff = 0
        if s == "*":
            sz = int(size*1.1) if size < 40 else 32
            yoff = 5
        text(dx+p[0]/fx, dy+p[1]/fy+yoff, s, sz)

text(96, 27, "(A)", 26, "left")
text(96, 1563, "(B)", 26, "left")
text(475, 10, "Mouse pan-fibroblasts", 46)
text(1491, 10, "Human pan-fibroblasts", 46)
text(468, 767, "Mouse urothelial cells", 46)
text(1490, 754, "Human urothelial cells", 46)
text(968, 1539, "Urothelial cells trajectory in mouse and human bladder", 46)
for s, y in (("*Tnc, Clec3b,Car3,",399),("Cxcl14, Grem2,",465),("Dkk2,Spon1",530)):
    text(763, y, s, 36.5, "left")
for s, y in (("*CCDC80,",401),("FBLN1",465)):
    text(1799, y, s, 36.5, "left")
for s, y in (("*Tmsb4x, Gstm1,",1097),("S100a6, Gsta4",1162)):
    text(772, y, s, 36.5, "left")
for s, y in (("*FTH1, S100P,",1097),("MALAT1, UPK1A,",1162),("TMSB4X, S100A6,",1228),("etc.",1291)):
    text(1815, y, s, 36.5, "left")
for g, x in zip(gene_names, (347, 992, 1570)):
    text(x, 1654, g, 36)
for s, x, y in zip(sample_names, (1808,1810,1814,1814,1816,1818,1816), (1752,1880,2036,2180,2306,2456,2605)):
    text(x, y, s, 33, "left")
text(16, 2084, "Expression", 27, angle=-90)
for x, y in ((326,2714),(969,2714),(1572,2709)):
    text(x, y, "pseudotime", 27)

layout["annotations"] = annots
fig.update_layout(**layout)
fig.write_html("out.html", post_script="document.body.style.margin='0';", config={"displayModeBar": False})
